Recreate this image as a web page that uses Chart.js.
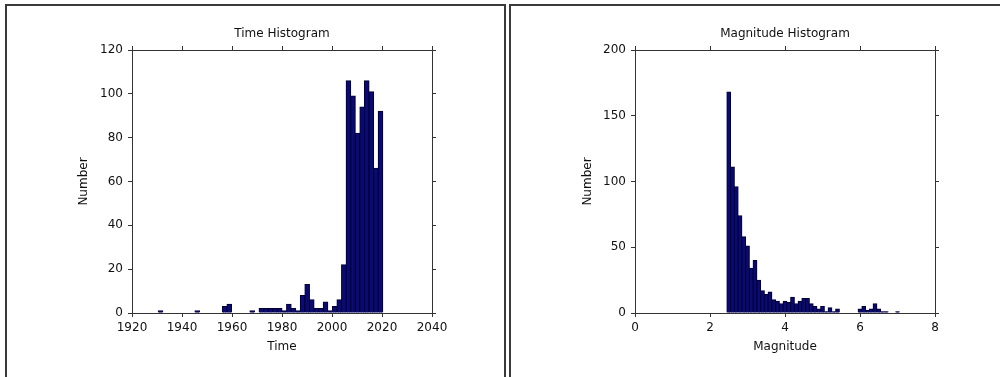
<!DOCTYPE html>
<html>
<head>
<meta charset="utf-8">
<script src="https://cdn.jsdelivr.net/npm/chart.js@4"></script>
<style>
  body { margin: 0; background: #fff; overflow: hidden; width: 1000px; height: 377px; position: relative; }
  .panel { position: absolute; top: 4px; height: 420px; border: 2px solid #3a3a3a; box-sizing: border-box; }
  #panel1 { left: 5px; width: 501px; }
  #panel2 { left: 509px; width: 520px; }
  canvas { position: absolute; top: 0; }
  #timeChart { left: 0; }
  #magChart { left: 500px; }
</style>
</head>
<body>
<div class="panel" id="panel1"></div>
<div class="panel" id="panel2"></div>
<canvas id="timeChart" width="500" height="377"></canvas>
<canvas id="magChart" width="500" height="377"></canvas>
<script>
// time histogram: 49 bins starting at 1930.5
const timeBinStart = 1930.5;
const timeBinWidth = 1.833;
const timeCounts = [1, 0, 0, 0, 0, 0, 0, 0, 1, 0, 0, 0, 0, 0, 3, 4, 0, 0, 0, 0,
  1, 0, 2, 2, 2, 2, 2, 1, 4, 2, 1, 8, 13, 6, 2, 2, 5, 1, 3, 6,
  22, 106, 99, 82, 94, 106, 101, 66, 92];

// magnitude histogram: 0.1 bins centred on 2.5 .. 7.0
const magBinStart = 2.45;
const magBinWidth = 0.1;
const magCounts = [168, 111, 96, 74, 58, 51, 34, 40, 25, 17, 14, 16, 10, 9, 7, 9, 8, 12, 7, 9,
  11, 11, 7, 5, 3, 5, 1, 4, 1, 3, 0, 0, 0, 0, 0, 3, 5, 2, 3, 7,
  3, 1, 1, 0, 0, 1];

const timeTicks = { min: 1920, max: 2040, step: 20 };
const timeYTicks = { min: 0, max: 120, step: 20 };
const magTicks = { min: 0, max: 8, step: 2 };
const magYTicks = { min: 0, max: 200, step: 50 };

const FONT = { family: "'DejaVu Sans', sans-serif", size: 12 };
const TEXT = '#111';
const AXIS = '#333';

function toPoints(start, width, counts) {
  return counts.map((c, i) => ({ x: start + width * (i + 0.5), y: c }));
}

function axis(pos, range, size, opts) {
  return Object.assign({
    type: 'linear',
    position: pos,
    min: range.min,
    max: range.max,
    offset: false,
    grid: { drawOnChartArea: false, offset: false, color: AXIS, tickLength: 4, tickWidth: 1 },
    border: { display: true, color: AXIS, width: 1 },
    ticks: { stepSize: range.step, color: TEXT, font: FONT, padding: 4, maxRotation: 0, callback: v => String(v) },
    afterFit: s => {
      if (s.isHorizontal()) s.height = size; else s.width = size;
    }
  }, opts);
}

function makeHist(id, points, xr, yr, title, xTitle, leftW, rightW, numberPad) {
  new Chart(document.getElementById(id), {
    type: 'bar',
    data: {
      datasets: [{
        data: points,
        xAxisID: 'x',
        yAxisID: 'y',
        backgroundColor: '#0a0a72',
        borderColor: '#000030',
        borderWidth: 1,
        inflateAmount: 0.5,
        barPercentage: 1,
        categoryPercentage: 1
      }]
    },
    options: {
      responsive: false,
      animation: false,
      devicePixelRatio: 1,
      layout: { padding: 0 },
      plugins: { legend: { display: false }, tooltip: { enabled: false } },
      scales: {
        x: axis('bottom', xr, 64, {
          title: { display: true, text: xTitle, color: TEXT, font: FONT, padding: { top: 0, bottom: 23 } }
        }),
        x2: axis('top', xr, 50, {
          ticks: { display: false, stepSize: xr.step },
          title: { display: true, text: title, color: TEXT, font: FONT, padding: { top: 27, bottom: 0 } }
        }),
        y: axis('left', yr, leftW, {
          ticks: { stepSize: yr.step, color: TEXT, font: FONT, padding: 5, callback: v => String(v) },
          title: { display: true, text: 'Number', color: TEXT, font: FONT, padding: { top: numberPad, bottom: 0 } }
        }),
        y2: axis('right', yr, rightW, {
          ticks: { display: false, stepSize: yr.step }
        })
      }
    }
  });
}

makeHist('timeChart', toPoints(timeBinStart, timeBinWidth, timeCounts),
  timeTicks, timeYTicks, 'Time Histogram', 'Time', 132, 68, 77);
makeHist('magChart', toPoints(magBinStart, magBinWidth, magCounts),
  magTicks, magYTicks, 'Magnitude Histogram', 'Magnitude', 135, 65, 81);
</script>
</body>
</html>
